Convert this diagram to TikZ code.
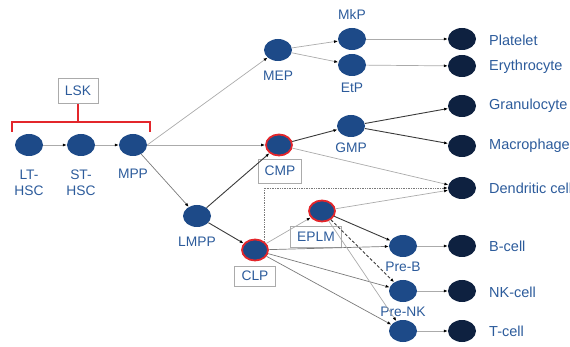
\documentclass[tikz,border=0pt]{standalone}
\usepackage{fontspec}
\setmainfont{Liberation Sans}
\usetikzlibrary{arrows.meta,shapes.geometric}
\definecolor{nodeblue}{HTML}{1D4A88}
\definecolor{darknode}{HTML}{0E2140}
\definecolor{txtblue}{HTML}{2C5B9B}
\definecolor{redb}{HTML}{E3262B}
\definecolor{lgray}{HTML}{ABABAB}
\definecolor{mgray}{HTML}{7A7A7A}
\definecolor{dgray}{HTML}{3A3A3A}
\begin{document}
\begin{tikzpicture}[x=1pt,y=-1pt,
  cell/.style={ellipse,fill=nodeblue,minimum width=28pt,minimum height=22pt,inner sep=0pt},
  redcell/.style={cell,draw=redb,line width=1.8pt,minimum width=26pt,minimum height=21pt},
  endcell/.style={cell,fill=darknode},
  lbl/.style={text=txtblue,font=\fontsize{13.8}{16}\selectfont,inner sep=0pt,align=center},
  rlbl/.style={lbl,anchor=west,font=\fontsize{14.5}{16}\selectfont},
  boxlbl/.style={lbl,draw=lgray,line width=0.9pt,minimum height=21pt,inner xsep=4pt},
  arr/.style={-{Latex[length=4pt,width=3pt,color=black]},line width=0.7pt,draw=lgray},
  marr/.style={arr,draw=mgray},
  darr/.style={arr,draw=dgray,line width=0.9pt}]
\useasboundingbox (0,0) rectangle (570,347);
% LSK
\node[cell] (lt) at (29,145) {};
\node[cell] (st) at (81,145) {};
\node[cell] (mpp) at (133,145) {};
\node[lbl] (ltl) at (29,183) {LT-\\HSC};
\node[lbl] (stl) at (81,183) {ST-\\HSC};
\node[lbl] (mppl) at (133,174) {MPP};
\node[boxlbl,minimum width=40pt,minimum height=25pt] (lsk) at (78,91) {LSK};
\coordinate (bl) at (12,132);
\coordinate (br) at (150,132);
\coordinate (bm) at (78,122);
\draw[redb,line width=1.3pt] (bl) -- (bl |- bm) -- (br |- bm) -- (br);
\draw[redb,line width=1.3pt] (lsk.south) -- (bm);
% myeloid
\node[cell] (mep) at (278,50) {};
\node[lbl] (mepl) at (278,76) {MEP};
\node[cell] (mkp) at (352,39) {};
\node[lbl] (mkpl) at (352,15) {MkP};
\node[cell] (etp) at (352,65) {};
\node[lbl] (etpl) at (352,88) {EtP};
\node[redcell] (cmp) at (279,145) {};
\node[boxlbl,minimum width=43pt,minimum height=24pt] (cmpl) at (280,171) {CMP};
\node[cell] (gmp) at (351,126) {};
\node[lbl] (gmpl) at (351,148) {GMP};
% lymphoid
\node[cell] (lmpp) at (197,216) {};
\node[lbl] (lmppl) at (197,242) {LMPP};
\node[redcell] (clp) at (255,250) {};
\node[boxlbl,minimum width=41pt,minimum height=20pt] (clpl) at (255,276) {CLP};
\node[redcell] (eplm) at (322,211) {};
\node[boxlbl,minimum width=51pt,minimum height=21pt] (eplml) at (316,237) {EPLM};
\node[cell] (preb) at (403,246) {};
\node[lbl] (prebl) at (403,267) {Pre-B};
\node[cell] (prenk) at (403,291) {};
\node[lbl] (prenkl) at (403,312) {Pre-NK};
\node[cell] (pret) at (403,331) {};
% terminal
\node[endcell] (plt) at (462,39) {};
\node[endcell] (ery) at (462,66) {};
\node[endcell] (gra) at (462,106) {};
\node[endcell] (mac) at (462,146) {};
\node[endcell] (den) at (462,188) {};
\node[endcell] (bc) at (462,246) {};
\node[endcell] (nk) at (462,291) {};
\node[endcell] (tc) at (462,331) {};
\node[rlbl] (pltl) at (489,40) {Platelet};
\node[rlbl] (eryl) at (489,67) {Erythrocyte};
\node[rlbl] (gral) at (489,106) {Granulocyte};
\node[rlbl] (macl) at (489,146) {Macrophage};
\node[rlbl] (denl) at (489,188) {Dendritic cell};
\node[rlbl] (bcl) at (489,246) {B-cell};
\node[rlbl] (nkl) at (489,292) {NK-cell};
\node[rlbl] (tcl) at (489,331) {T-cell};
% edges
\draw[arr] (lt) -- (st);
\draw[arr] (st) -- (mpp);
\draw[arr] (mpp.east) -- (mep);
\draw[arr] (mpp) -- (cmp);
\draw[marr] (mpp) -- (lmpp);
\draw[darr] (lmpp) -- (cmp);
\draw[darr] (lmpp) -- (clp);
\draw[arr] (mep) -- (mkp);
\draw[arr] (mep) -- (etp);
\draw[arr] (mkp) -- (plt);
\draw[arr] (etp) -- (ery);
\draw[darr] (cmp) -- (gmp);
\draw[arr] (cmp) -- (den);
\draw[darr] (gmp) -- (gra);
\draw[darr] (gmp) -- (mac);
\draw[marr,densely dotted] ([xshift=9pt,yshift=-3pt]clp.north) |- (den);
\draw[arr] (eplm) -- (den);
\draw[arr] (clp) -- (eplm);
\draw[marr] (clp) -- (preb);
\draw[marr] (clp) -- (prenk);
\draw[marr] (clp) -- (pret);
\draw[darr] (eplm) -- (preb);
\draw[darr,densely dashed] (eplm) -- (prenk);
\draw[arr] (eplm) -- (pret);
\draw[arr] (preb) -- (bc);
\draw[arr] (prenk) -- (nk);
\draw[arr] (pret) -- (tc);
\end{tikzpicture}
\end{document}
